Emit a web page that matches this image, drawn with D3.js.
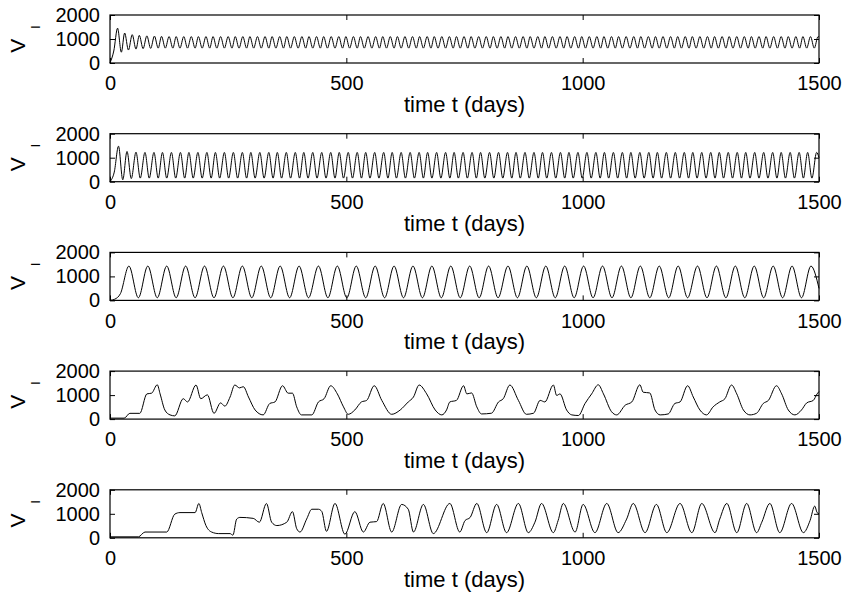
<!DOCTYPE html>
<html>
<head>
<meta charset="utf-8">
<script src="https://cdn.jsdelivr.net/npm/d3@7"></script>
<style>
  body { margin: 0; background: #fff; }
  svg { display: block; }
</style>
</head>
<body>
<div id="chart"></div>
<script>
const width = 844;
const height = 597;

const xTicks = [0, 500, 1000, 1500];
const yTicks = [0, 1000, 2000];
const xLabel = "time t (days)";

// [day, V_I] (peaks / troughs / shoulders)
const panel1 = [[0,0],[8,500],[16,1450],[24,450],[31,1250],[39,540],[47,1180],[55,580],[62,1150],[70,600],[78,1130],[86,610],[94,1120],[102,620],[109,1110],[117,620],[125,1100],[133,620],[140,1100],[148,620],[156,1100],[164,620],[172,1100],[180,620],[187,1100],[195,620],[203,1100],[211,620],[218,1100],[226,620],[234,1100],[242,620],[250,1100],[258,620],[265,1100],[273,620],[281,1100],[289,620],[296,1100],[304,620],[312,1100],[320,620],[328,1100],[336,620],[343,1100],[351,620],[359,1100],[367,620],[374,1100],[382,620],[390,1100],[398,620],[406,1100],[414,620],[421,1100],[429,620],[437,1100],[445,620],[452,1100],[460,620],[468,1100],[476,620],[484,1100],[492,620],[499,1100],[507,620],[515,1100],[523,620],[530,1100],[538,620],[546,1100],[554,620],[562,1100],[570,620],[577,1100],[585,620],[593,1100],[601,620],[608,1100],[616,620],[624,1100],[632,620],[640,1100],[648,620],[655,1100],[663,620],[671,1100],[679,620],[686,1100],[694,620],[702,1100],[710,620],[718,1100],[726,620],[733,1100],[741,620],[749,1100],[757,620],[764,1100],[772,620],[780,1100],[788,620],[796,1100],[804,620],[811,1100],[819,620],[827,1100],[835,620],[842,1100],[850,620],[858,1100],[866,620],[874,1100],[882,620],[889,1100],[897,620],[905,1100],[913,620],[920,1100],[928,620],[936,1100],[944,620],[952,1100],[960,620],[967,1100],[975,620],[983,1100],[991,620],[998,1100],[1006,620],[1014,1100],[1022,620],[1030,1100],[1038,620],[1045,1100],[1053,620],[1061,1100],[1069,620],[1076,1100],[1084,620],[1092,1100],[1100,620],[1108,1100],[1116,620],[1123,1100],[1131,620],[1139,1100],[1147,620],[1154,1100],[1162,620],[1170,1100],[1178,620],[1186,1100],[1194,620],[1201,1100],[1209,620],[1217,1100],[1225,620],[1232,1100],[1240,620],[1248,1100],[1256,620],[1264,1100],[1272,620],[1279,1100],[1287,620],[1295,1100],[1303,620],[1310,1100],[1318,620],[1326,1100],[1334,620],[1342,1100],[1350,620],[1357,1100],[1365,620],[1373,1100],[1381,620],[1388,1100],[1396,620],[1404,1100],[1412,620],[1420,1100],[1428,620],[1435,1100],[1443,620],[1451,1100],[1459,620],[1466,1100],[1474,620],[1482,1100],[1490,620],[1498,1100],[1500,1080]];

const panel2 = [[0,0],[9,400],[18,1480],[27,80],[36,1260],[45,130],[55,1230],[64,150],[74,1220],[83,150],[93,1220],[102,150],[111,1220],[120,150],[130,1220],[139,150],[149,1220],[158,150],[167,1220],[176,150],[186,1220],[195,150],[205,1220],[214,150],[223,1220],[232,150],[242,1220],[251,150],[261,1220],[270,150],[280,1220],[289,150],[298,1220],[307,150],[317,1220],[326,150],[336,1220],[345,150],[354,1220],[363,150],[373,1220],[382,150],[392,1220],[401,150],[410,1220],[419,150],[429,1220],[438,150],[448,1220],[457,150],[467,1220],[476,150],[485,1220],[494,150],[504,1220],[513,150],[523,1220],[532,150],[541,1220],[550,150],[560,1220],[569,150],[579,1220],[588,150],[597,1220],[606,150],[616,1220],[625,150],[635,1220],[644,150],[654,1220],[663,150],[672,1220],[681,150],[691,1220],[700,150],[710,1220],[719,150],[728,1220],[737,150],[747,1220],[756,150],[766,1220],[775,150],[784,1220],[793,150],[803,1220],[812,150],[822,1220],[831,150],[841,1220],[850,150],[859,1220],[868,150],[878,1220],[887,150],[897,1220],[906,150],[915,1220],[924,150],[934,1220],[943,150],[953,1220],[962,150],[971,1220],[980,150],[990,1220],[999,150],[1009,1220],[1018,150],[1028,1220],[1037,150],[1046,1220],[1055,150],[1065,1220],[1074,150],[1084,1220],[1093,150],[1102,1220],[1111,150],[1121,1220],[1130,150],[1140,1220],[1149,150],[1158,1220],[1167,150],[1177,1220],[1186,150],[1196,1220],[1205,150],[1215,1220],[1224,150],[1233,1220],[1242,150],[1252,1220],[1261,150],[1271,1220],[1280,150],[1289,1220],[1298,150],[1308,1220],[1317,150],[1327,1220],[1336,150],[1345,1220],[1354,150],[1364,1220],[1373,150],[1383,1220],[1392,150],[1402,1220],[1411,150],[1420,1220],[1429,150],[1439,1220],[1448,150],[1458,1220],[1467,150],[1476,1220],[1485,150],[1495,1220],[1500,1000]];

const panel3 = [[0,0],[10,50],[22,280],[40,1430],[60,110],[80,1430],[100,110],[120,1430],[140,110],[160,1430],[180,110],[200,1430],[220,110],[240,1430],[260,110],[280,1430],[300,110],[320,1430],[340,110],[360,1430],[380,110],[400,1430],[420,110],[441,1430],[461,110],[481,1430],[501,110],[521,1430],[541,110],[561,1430],[581,110],[601,1430],[621,110],[641,1430],[661,110],[681,1430],[701,110],[721,1430],[741,110],[761,1430],[781,110],[801,1430],[821,110],[842,1430],[862,110],[882,1430],[902,110],[922,1430],[942,110],[962,1430],[982,110],[1002,1430],[1022,110],[1042,1430],[1062,110],[1082,1430],[1102,110],[1122,1430],[1142,110],[1162,1430],[1182,110],[1202,1430],[1222,110],[1243,1430],[1263,110],[1283,1430],[1303,110],[1323,1430],[1343,110],[1363,1430],[1383,110],[1403,1430],[1423,110],[1443,1430],[1463,110],[1483,1430],[1500,500]];

const panel4 = [[0,40],[30,40],[42,240],[63,240],[78,1050],[88,1080],[100,1430],[106,1050],[116,380],[127,175],[137,135],[155,850],[164,715],[182,1420],[192,850],[206,1010],[220,240],[234,675],[243,540],[254,920],[264,1420],[274,1300],[282,1350],[293,920],[307,380],[324,175],[338,650],[349,715],[365,1390],[377,1080],[386,1080],[395,510],[405,175],[427,175],[441,715],[453,850],[467,1390],[481,1050],[494,510],[504,200],[518,380],[532,715],[543,780],[559,1390],[575,780],[596,200],[614,380],[631,715],[642,920],[654,1420],[670,1050],[688,380],[702,175],[712,380],[719,715],[733,780],[748,1390],[755,1050],[765,1090],[776,510],[786,215],[807,245],[822,715],[832,850],[846,1420],[864,780],[881,200],[896,245],[910,780],[920,715],[938,1420],[945,985],[952,1050],[966,380],[977,175],[991,150],[1005,650],[1019,1050],[1033,1430],[1044,1050],[1061,310],[1072,175],[1090,580],[1104,715],[1121,1430],[1128,1120],[1142,1090],[1153,380],[1164,175],[1181,215],[1195,650],[1206,715],[1222,1390],[1234,920],[1248,380],[1262,175],[1276,510],[1290,715],[1301,850],[1315,1420],[1326,1050],[1340,380],[1354,175],[1368,245],[1382,650],[1393,780],[1410,1390],[1421,1050],[1435,380],[1449,175],[1463,380],[1474,675],[1488,780],[1496,1050],[1500,1150]];

const panel5 = [[0,40],[60,40],[74,240],[120,240],[137,985],[148,1050],[180,1050],[188,1430],[194,1050],[203,510],[215,240],[230,175],[254,175],[260,110],[268,780],[275,850],[303,810],[316,650],[331,1430],[342,650],[353,510],[374,650],[386,1090],[395,380],[402,240],[416,780],[427,1190],[441,1190],[448,1100],[458,270],[476,1430],[497,150],[518,1090],[536,240],[550,650],[564,675],[578,1430],[596,240],[617,1390],[631,1190],[642,240],[663,1390],[684,175],[719,1430],[740,240],[751,715],[762,850],[776,1430],[797,215],[818,1390],[839,215],[864,1430],[885,215],[899,650],[913,1430],[938,215],[948,715],[959,1430],[984,240],[1001,1390],[1026,215],[1051,1430],[1075,215],[1093,780],[1107,1430],[1132,215],[1156,1390],[1178,215],[1206,1430],[1231,215],[1252,1430],[1280,215],[1290,780],[1305,1430],[1326,215],[1347,1430],[1368,215],[1379,650],[1396,1430],[1417,215],[1442,1430],[1467,215],[1481,715],[1491,1320],[1496,1050],[1500,1000]];

const panels = [panel1, panel2, panel3, panel4, panel5];

// layout
const plotLeft = 110;
const plotRight = 819;
const firstTop = 15;
const panelStep = 118.7;
const panelHeight = 48;
const fontFamily = "'Liberation Sans', Arial, Helvetica, sans-serif";
const plain = d3.format("d");

const x = d3.scaleLinear().domain([0, 1500]).range([plotLeft, plotRight]);

const svg = d3
  .select("#chart")
  .append("svg")
  .attr("width", width)
  .attr("height", height);

const line = y =>
  d3
    .line()
    .x(d => x(d[0]))
    .y(d => y(d[1]))
    .curve(d3.curveMonotoneX);

panels.forEach((data, i) => {
  const top = firstTop + i * panelStep;
  const bottom = top + panelHeight;
  const y = d3.scaleLinear().domain([0, 2000]).range([bottom, top]);
  const g = svg.append("g");

  // series
  g.append("path")
    .datum(data)
    .attr("d", line(y))
    .attr("fill", "none")
    .attr("stroke", "#000")
    .attr("stroke-width", 1);

  // axes, ticks pointing inward
  const styleAxis = a => {
    a.select(".domain").remove();
    a.attr("font-size", 20).attr("font-family", fontFamily);
    a.selectAll("text").attr("fill", "#000");
    a.selectAll("line").attr("stroke", "#000");
  };

  g.append("g")
    .attr("transform", `translate(0,${bottom})`)
    .call(d3.axisBottom(x).tickValues(xTicks).tickFormat(plain).tickSizeInner(-5).tickSizeOuter(0).tickPadding(13))
    .call(styleAxis);
  g.append("g")
    .attr("transform", `translate(0,${top})`)
    .call(d3.axisTop(x).tickValues(xTicks).tickSizeInner(-5).tickSizeOuter(0).tickFormat(""))
    .call(styleAxis);
  g.append("g")
    .attr("transform", `translate(${plotLeft},0)`)
    .call(d3.axisLeft(y).tickValues(yTicks).tickFormat(plain).tickSizeInner(-5).tickSizeOuter(0).tickPadding(10))
    .call(styleAxis);
  g.append("g")
    .attr("transform", `translate(${plotRight},0)`)
    .call(d3.axisRight(y).tickValues(yTicks).tickSizeInner(-5).tickSizeOuter(0).tickFormat(""))
    .call(styleAxis);

  // box
  g.append("rect")
    .attr("x", plotLeft)
    .attr("y", top)
    .attr("width", plotRight - plotLeft)
    .attr("height", panelHeight)
    .attr("fill", "none")
    .attr("stroke", "#000")
    .attr("stroke-width", 1.2);

  // x label
  g.append("text")
    .attr("x", (plotLeft + plotRight) / 2)
    .attr("y", bottom + 49)
    .attr("text-anchor", "middle")
    .attr("font-family", fontFamily)
    .attr("font-size", 22)
    .text(xLabel);

  // y label V_I
  const yl = g.append("text")
    .attr("transform", `translate(25,${top + panelHeight / 2}) rotate(-90)`)
    .attr("text-anchor", "middle")
    .attr("font-family", fontFamily)
    .attr("font-size", 21);
  yl.append("tspan").text("V");
  yl.append("tspan").attr("dx", 10).attr("dy", 15).attr("font-size", 12).text("I");
});
</script>
</body>
</html>
